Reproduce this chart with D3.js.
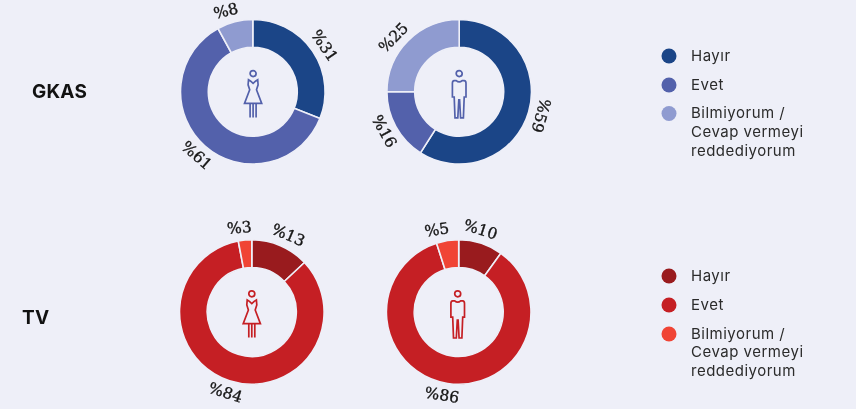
<!DOCTYPE html>
<html><head><meta charset="utf-8">
<script src="https://cdn.jsdelivr.net/npm/d3@7"></script>
<style>html,body{margin:0;padding:0;background:#eeeff8;overflow:hidden}svg{display:block;filter:blur(0.35px)}</style>
</head><body><svg id="c" width="856" height="409"></svg>
<script>
const categories = ["Hayır", "Evet", "Bilmiyorum / Cevap vermeyi reddediyorum"];
const legendLines = [["Hayır"], ["Evet"], ["Bilmiyorum /", "Cevap vermeyi", "reddediyorum"]];
const blueColors = ["#1b4587", "#5361ab", "#8f9bd0"];
const redColors = ["#991b1e", "#c51f24", "#f04435"];
const gkasFemale = [31, 61, 8];
const gkasMale = [59, 16, 25];
const tvFemale = [13, 84, 3];
const tvMale = [10, 86, 5];

const W = 856, H = 409, BG = "#eeeff8";
const svg = d3.select("#c").attr("viewBox", `0 0 ${W} ${H}`);
svg.append("rect").attr("width", W).attr("height", H).attr("fill", BG);

const R = 72.3, r0 = 44.5, LR = 85;
const pie = d3.pie().sort(null).value(d => d);
const arc = d3.arc().innerRadius(r0).outerRadius(R);

const femalePaths = [
  "M-4.6,-12 L-2.4,-10.6 L0,-8.4 L2.4,-10.6 L4.6,-12 L5,-7 L3.4,-2 L8.6,11.6 L-8.6,11.6 L-3.4,-2 L-5,-7 Z",
  "M-3,11.6 V25.6 M0,11.6 V25.6 M3,11.6 V25.6"
];
const malePaths = [
  "M-3,-11.2 Q0,-8.6 3,-11.2 L5,-11.2 Q6.8,-11 6.8,-8.6 V5.2 H5 L4.2,26 H1.4 L0.4,8 L-0.4,8 L-1.4,26 H-4.2 L-5,5.2 H-6.8 V-8.6 Q-6.8,-11 -5,-11.2 Z"
];

function icon(g, paths, color) {
  g.append("circle").attr("cy", -18.2).attr("r", 3).attr("fill", "none").attr("stroke", color).attr("stroke-width", 1.7);
  paths.forEach(d => g.append("path").attr("d", d).attr("fill", "none")
    .attr("stroke", color).attr("stroke-width", 1.7).attr("stroke-linejoin", "miter"));
}

function donut(cx, cy, values, colors, iconPaths, iconColor, iconDx, nudge) {
  const g = svg.append("g").attr("transform", `translate(${cx},${cy})`);
  const arcs = pie(values);
  g.selectAll("path.s").data(arcs).join("path").attr("class", "s")
    .attr("d", arc).attr("fill", (d, i) => colors[i]).attr("stroke", BG).attr("stroke-width", 1.6);
  g.selectAll("text").data(arcs).join("text")
    .attr("transform", (d, i) => {
      const a = (d.startAngle + d.endAngle) / 2;
      const p = a + nudge[i] * Math.PI / 180;
      const x = Math.sin(p) * LR, y = -Math.cos(p) * LR;
      let deg = a * 180 / Math.PI;
      if (deg > 180) deg -= 180;
      if (deg > 120) deg -= 180;
      return `translate(${x},${y}) rotate(${deg})`;
    })
    .attr("text-anchor", "middle").attr("dominant-baseline", "central")
    .attr("font-family", "'DejaVu Serif', serif").attr("font-size", 15.5)
    .attr("stroke", "#161616").attr("stroke-width", 0.35)
    .attr("fill", "#161616").text(d => "%" + d.data);
  icon(g.append("g").attr("transform", `translate(${iconDx},0)`), iconPaths, iconColor);
}

donut(252.8, 91.8, gkasFemale, blueColors, femalePaths, "#5361ab", 0.3, [1.5, 0, -4]);
donut(459.2, 91.8, gkasMale, blueColors, malePaths, "#5361ab", 0, [0, 1, -5.5]);
donut(251.8, 312, tvFemale, redColors, femalePaths, "#c51f24", 0, [2, 0, -3]);
donut(458.7, 312, tvMale, redColors, malePaths, "#c51f24", -1, [-3, 2.5, -6]);

function legend(ys, colors) {
  categories.forEach((c, i) => {
    svg.append("circle").attr("cx", 669).attr("cy", ys[i]).attr("r", 7.5).attr("fill", colors[i]);
    legendLines[i].forEach((t, j) => svg.append("text").attr("x", 691).attr("y", ys[i] - 0.7 + j * 18.6)
      .attr("dominant-baseline", "central").attr("font-family", "Inter, sans-serif")
      .attr("font-size", 15).attr("letter-spacing", 0.5).attr("fill", "#2b2b2b").text(t));
  });
}
legend([56, 85, 113.5], blueColors);
legend([276, 305, 334], redColors);

function rowTitle(t, x, y) {
  svg.append("text").attr("x", x).attr("y", y).attr("dominant-baseline", "central")
    .attr("font-family", "Inter, sans-serif").attr("font-weight", 700).attr("font-size", 19)
    .attr("letter-spacing", 0.2).attr("fill", "#111").text(t);
}
rowTitle("GKAS", 32, 91);
rowTitle("TV", 22, 317);
</script></body></html>
